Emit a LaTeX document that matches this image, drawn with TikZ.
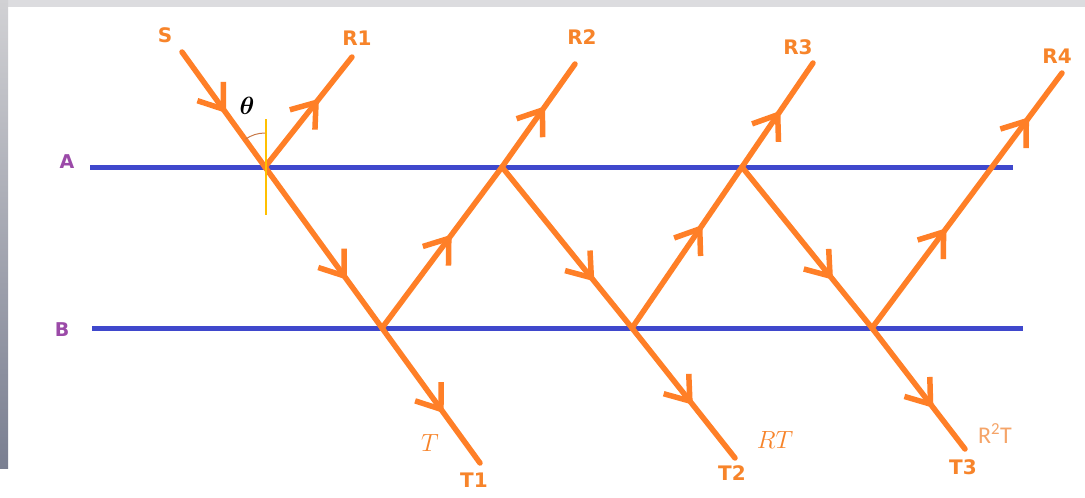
\documentclass[tikz,border=0pt]{standalone}
\usepackage{fontspec}
\setmainfont{DejaVu Sans}
\newfontfamily\calfont{Carlito}
\usetikzlibrary{arrows.meta,decorations.markings,calc}
\definecolor{rayorange}{HTML}{FF7F27}
\definecolor{lblorange}{HTML}{F7842A}
\definecolor{lightorange}{HTML}{F5A468}
\definecolor{mirrorblue}{HTML}{3F48CC}
\definecolor{sidepurple}{HTML}{9B4AA8}
\definecolor{topgray}{HTML}{DCDCDF}
\definecolor{normalyellow}{HTML}{FFC000}
\tikzset{
  rayline/.style={draw=rayorange,line width=5.5pt,line cap=round,line join=round},
  arr/.style={postaction={decorate},decoration={markings,
      mark=at position #1 with {\arrow[rayorange,line width=5.5pt]{Straight Barb[length=22pt,width=32pt]}}}},
  lbl/.style={text=lblorange,font=\bfseries\fontsize{20}{24}\selectfont,inner sep=0pt},
  sidelbl/.style={text=sidepurple,font=\bfseries\fontsize{19}{22}\selectfont,inner sep=0pt},
  coef/.style={text=lblorange,font=\Huge,inner sep=0pt},
  mirror/.style={draw=mirrorblue,line width=5pt},
}
\begin{document}
\begin{tikzpicture}[x=1pt,y=-1pt]
\useasboundingbox (0,0) rectangle (1085,498);
\fill[white] (0,0) rectangle (1085,498);
\fill[topgray] (0,0) rectangle (1085,7);
\shade[top color=topgray!95!black, bottom color={rgb,255:red,122;green,127;blue,145}] (0,0) rectangle (8,468);

% interfaces
\coordinate (Al) at (90,167);  \coordinate (Ar) at (1013,167);
\coordinate (Bl) at (92,328);  \coordinate (Br) at (1023,328);
\draw[mirror] (Al) -- (Ar);
\draw[mirror] (Bl) -- (Br);
\node[sidelbl] (Albl) at (67,162) {A};
\node[sidelbl] (Blbl) at (62,330) {B};

% ray points
\coordinate (S0) at (182,52);
\coordinate (A1) at (265,167);
\coordinate (A2) at (502,167);
\coordinate (A3) at (742,167);
\coordinate (A4) at (992,167);
\coordinate (B1) at (382,328);
\coordinate (B2) at (632,328);
\coordinate (B3) at (872,328);
\coordinate (R1e) at (352,57);
\coordinate (R2e) at (575,64);
\coordinate (R3e) at (813,63);
\coordinate (R4e) at (1062,73);
\coordinate (T1e) at (480,463);
\coordinate (T2e) at (735,458);
\coordinate (T3e) at (965,449);

% rays
\draw[rayline,arr=0.53] (S0) -- (A1);
\draw[rayline,arr=0.62] (A1) -- (R1e);
\draw[rayline,arr=0.70] (A1) -- (B1);
\draw[rayline,arr=0.63] (B1) -- (T1e);
\draw[rayline,arr=0.58] (B1) -- (A2);
\draw[rayline,arr=0.59] (A2) -- (R2e);
\draw[rayline,arr=0.71] (A2) -- (B2);
\draw[rayline,arr=0.59] (B2) -- (T2e);
\draw[rayline,arr=0.64] (B2) -- (A3);
\draw[rayline,arr=0.54] (A3) -- (R3e);
\draw[rayline,arr=0.70] (A3) -- (B3);
\draw[rayline,arr=0.66] (B3) -- (T3e);
\draw[rayline,arr=0.62] (B3) -- (A4);
\draw[rayline,arr=0.53] (A4) -- (R4e);

% normal and angle
\coordinate (Ntop) at (266,119);
\coordinate (Nbot) at (266,215);
\draw[normalyellow,line width=1.5pt] (Ntop) -- (Nbot);
\draw[draw={rgb,255:red,200;green,120;blue,70},line width=1pt]
  ([shift={(270:34)}]A1) arc[start angle=270,end angle=235,radius=34];
\node[inner sep=0pt,font=\Huge\boldmath] (theta) at (247,106) {$\theta$};

% labels
\node[lbl] (Slbl) at (165,35) {S};
\node[lbl] (R1lbl) at (357,38) {R1};
\node[lbl] (R2lbl) at (582,37) {R2};
\node[lbl] (R3lbl) at (798,47) {R3};
\node[lbl] (R4lbl) at (1057,56) {R4};
\node[lbl] (T1lbl) at (474,480) {T1};
\node[lbl] (T2lbl) at (732,473) {T2};
\node[lbl] (T3lbl) at (963,467) {T3};
\node[coef] (Tc) at (430,443) {$T$};
\node[coef] (RTc) at (775,440) {$RT$};
\node[inner sep=0pt,text=lightorange,font=\calfont\fontsize{24}{28}\selectfont] (R2Tc) at (995,434) {R\textsuperscript{2}T};
\end{tikzpicture}
\end{document}
